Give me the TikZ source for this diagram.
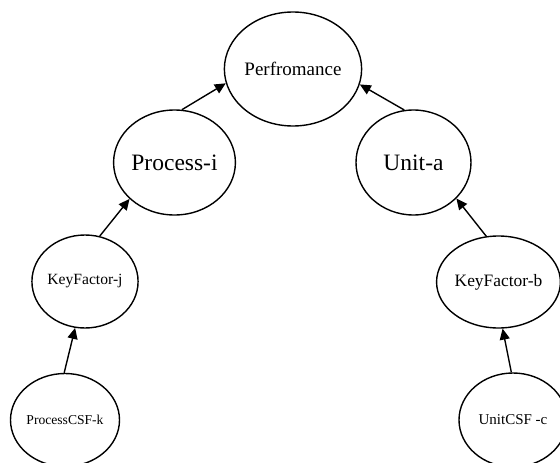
\documentclass[tikz,border=0pt]{standalone}
\usepackage{fontspec}
\setmainfont{Liberation Serif}
\usetikzlibrary{shapes.geometric,arrows.meta}
\tikzset{vertex/.style = {shape=ellipse,draw,line width=1.4pt,inner sep=0pt}}
\tikzset{edge/.style = {-{Triangle[length=11pt,width=10pt]},line width=1.4pt}}

\begin{document}
\begin{tikzpicture}[x=1pt,y=-1pt]
  \clip (0,0) rectangle (560,463);

  \node[vertex,minimum width=126pt,minimum height=114pt,font=\fontsize{19}{22}\selectfont] (perf) at (293, 69) {Perfromance};
  \node[vertex,minimum width=115pt,minimum height=105pt,font=\fontsize{23.5}{27}\selectfont] (proc) at (174.5, 162.5) {Process-i};
  \node[vertex,minimum width=115pt,minimum height=105pt,font=\fontsize{23.5}{27}\selectfont] (unit) at (413.5, 162.5) {Unit-a};
  \node[vertex,minimum width=106pt,minimum height=93pt,font=\fontsize{15.6}{18}\selectfont] (kfj) at (85, 281.5) {KeyFactor-j};
  \node[vertex,minimum width=109pt,minimum height=92pt,font=\fontsize{17.4}{20}\selectfont] (kfb) at (498.5, 282) {KeyFactor-b};
  \node[vertex,minimum width=106pt,minimum height=93pt,font=\fontsize{13.6}{16}\selectfont] (pcsf) at (65, 420) {ProcessCSF-k};
  \node[vertex,minimum width=108pt,minimum height=94pt,font=\fontsize{15}{18}\selectfont] (ucsf) at (513, 420) {UnitCSF -c};

  \draw[edge] (proc.82) to (perf.192.5);
  \draw[edge] (unit.100.5) to (perf.347.5);
  \draw[edge] (kfj.72) to (proc.219);
  \draw[edge] (kfb.105) to (unit.320);
  \draw[edge] (pcsf.91) to (kfj.258);
  \draw[edge] (ucsf.92) to (kfb.275.5);
\end{tikzpicture}
\end{document}
